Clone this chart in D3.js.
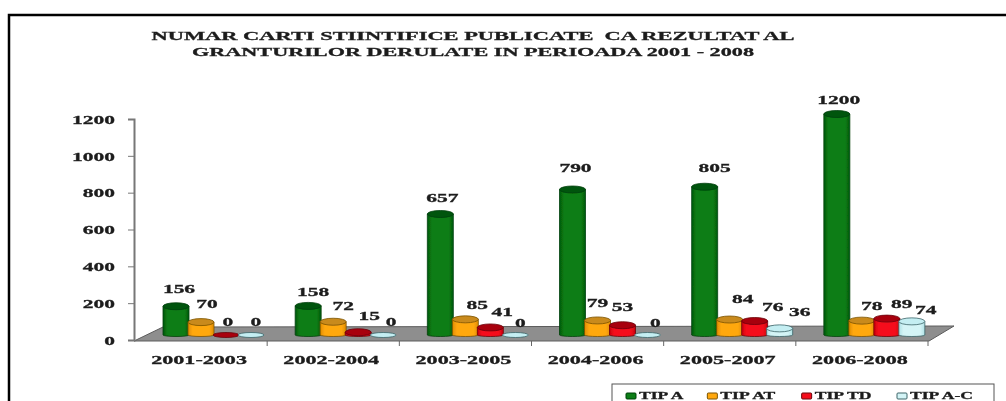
<!DOCTYPE html>
<html>
<head>
<meta charset="utf-8">
<script src="https://cdn.jsdelivr.net/npm/d3@7"></script>
<style>
  html, body { margin: 0; padding: 0; background: #fff; overflow: hidden; }
  svg { display: block; }
  text { font-family: "Liberation Serif", serif; font-weight: bold; fill: #1c1c1c; stroke: #1c1c1c; stroke-width: 0.3; }
</style>
</head>
<body>
<div id="chart"></div>
<script>
var titleLines = ["NUMAR CARTI STIINTIFICE PUBLICATE  CA REZULTAT AL", "GRANTURILOR DERULATE IN PERIOADA 2001 - 2008"];
var periods = ["2001-2003", "2002-2004", "2003-2005", "2004-2006", "2005-2007", "2006-2008"];
var seriesNames = ["TIP A", "TIP AT", "TIP TD", "TIP A-C"];
var tipA = [156, 158, 657, 790, 805, 1200];
var tipAT = [70, 72, 85, 79, 84, 78];
var tipTD = [0, 15, 41, 53, 76, 89];
var tipAC = [0, 0, 0, 0, 36, 74];
var yTicks = [0, 200, 400, 600, 800, 1000, 1200];

var svgWidth = 1006;
var svgHeight = 401;

var svg = d3.select("#chart")
  .append("svg")
  .attr("width", svgWidth)
  .attr("height", svgHeight);

// the reference is a soft, scaled up scan
var defs = svg.append("defs");
defs.append("filter")
  .attr("id", "soft")
  .append("feGaussianBlur")
  .attr("stdDeviation", 0.45);

var colors = [
  { dark: "#045a0c", mid: "#0a7d14", cap: "#05540e", line: "#03400a" },
  { dark: "#e08c00", mid: "#ffa810", cap: "#c98a1c", line: "#7a5200" },
  { dark: "#c8000c", mid: "#f5101c", cap: "#a8000e", line: "#6a0008" },
  { dark: "#b0e2e6", mid: "#d4f4f6", cap: "#c4eef2", line: "#3c6468" }
];

colors.forEach(function(c, i) {
  var grad = defs.append("linearGradient").attr("id", "bar" + i);
  grad.append("stop").attr("offset", "0%").attr("stop-color", c.dark);
  grad.append("stop").attr("offset", "18%").attr("stop-color", c.mid);
  grad.append("stop").attr("offset", "82%").attr("stop-color", c.mid);
  grad.append("stop").attr("offset", "100%").attr("stop-color", c.dark);
});

var chartGroup = svg.append("g").attr("filter", "url(#soft)");

// stretch text sideways, the source picture was pulled wider than tall
function stretch(selection, k) {
  selection.each(function() {
    d3.select(this)
      .attr("textLength", this.getComputedTextLength() * k)
      .attr("lengthAdjust", "spacingAndGlyphs");
  });
}

// page frame, only top and left show
chartGroup.append("path")
  .attr("d", "M9,401V15H1006")
  .attr("fill", "none")
  .attr("stroke", "#000")
  .attr("stroke-width", 2.5);

// title
var titleWidths = [643, 562];
chartGroup.selectAll(".title")
  .data(titleLines)
  .enter()
  .append("text")
  .attr("class", "title")
  .attr("x", 473)
  .attr("y", (d, i) => 40 + i * 16)
  .attr("text-anchor", "middle")
  .attr("font-size", 13)
  .attr("xml:space", "preserve")
  .attr("textLength", (d, i) => titleWidths[i])
  .attr("lengthAdjust", "spacingAndGlyphs")
  .text(d => d);

// scales
var yScale = d3.scaleLinear().domain([0, 1200]).range([340, 119]);
var xScale = d3.scaleBand().domain(periods).range([135, 928]);
var seriesScale = d3.scaleBand().domain(seriesNames).range([28, 128]);

var barWidth = seriesScale.bandwidth() + 1;
var floorLift = 5;
var capHeight = 3.5;

// floor
chartGroup.append("polygon")
  .attr("points", "134,341 163,327 954,326 929,341")
  .attr("fill", "#8e8e8e")
  .attr("stroke", "#5c5c5c");

// y axis
var leftAxis = d3.axisLeft(yScale)
  .tickValues(yTicks)
  .tickFormat(d3.format("d"))
  .tickSize(6)
  .tickPadding(13);

var yAxis = chartGroup.append("g")
  .attr("transform", "translate(134, 0)")
  .call(leftAxis);
yAxis.select(".domain").attr("stroke", "#777").attr("stroke-width", 2);
yAxis.selectAll(".tick line").attr("stroke", "#777");
yAxis.selectAll("text")
  .attr("font-size", 13)
  .attr("font-family", null)
  .call(stretch, 1.65);

// x axis, labels from the band scale and ticks on the band edges
var bottomAxis = d3.axisBottom(xScale).tickSize(0).tickPadding(13);
var xAxis = chartGroup.append("g")
  .attr("transform", "translate(-2, 351)")
  .call(bottomAxis);
xAxis.select(".domain").remove();
xAxis.selectAll("text")
  .attr("font-size", 13)
  .attr("font-family", null)
  .attr("dy", "0")
  .attr("y", 13)
  .call(stretch, 1.7);

chartGroup.selectAll(".xtick")
  .data(periods)
  .enter()
  .append("line")
  .attr("class", "xtick")
  .attr("x1", d => xScale(d) + xScale.bandwidth())
  .attr("x2", d => xScale(d) + xScale.bandwidth())
  .attr("y1", 341)
  .attr("y2", 346)
  .attr("stroke", "#666");

// cylinders
var seriesValues = [tipA, tipAT, tipTD, tipAC];

seriesNames.forEach(function(name, s) {
  var c = colors[s];
  var values = seriesValues[s];
  var group = chartGroup.append("g");

  periods.forEach(function(period, i) {
    var left = xScale(period) + seriesScale(name);
    var cx = left + barWidth / 2;
    var yTop = yScale(values[i]) - floorLift;
    var yBase = yScale(0) - floorLift;
    var rx = barWidth / 2;

    // a zero value is only the flat disc
    if (values[i] > 0) {
      group.append("path")
        .attr("d", `M${left},${yTop}V${yBase}A${rx},1.5 0 0 0 ${left + barWidth},${yBase}V${yTop}Z`)
        .attr("fill", `url(#bar${s})`)
        .attr("stroke", c.line)
        .attr("stroke-width", 0.8);
    }

    group.append("ellipse")
      .attr("cx", cx)
      .attr("cy", yTop)
      .attr("rx", rx)
      .attr("ry", values[i] === 0 ? 2.5 : capHeight)
      .attr("fill", c.cap)
      .attr("stroke", c.line)
      .attr("stroke-width", 0.8);
  });
});

// value labels, hand placed in the original so nudged per label
var labelNudgeX = [
  [3, 5, 2, 3, 10, 2],
  [6, 10, 12, 0, 13, 10],
  [2, 11, 12, 0, 18, 15],
  [5, 8, 5, 8, 20, 14]
];
var labelNudgeY = [
  [-17, -14, -16, -22, -19, -14],
  [-18, -16, -14, -17, -21, -15],
  [-13, -16, -15, -18, -14, -15],
  [-13, -13, -12, -12, -16, -11]
];

seriesNames.forEach(function(name, s) {
  chartGroup.selectAll(".label" + s)
    .data(seriesValues[s])
    .enter()
    .append("text")
    .attr("class", "label" + s)
    .attr("x", (d, i) => xScale(periods[i]) + seriesScale(name) + barWidth / 2 + labelNudgeX[s][i])
    .attr("y", (d, i) => yScale(d) - floorLift + labelNudgeY[s][i] + 4)
    .attr("text-anchor", "middle")
    .attr("font-size", 13)
    .text(d => d)
    .call(stretch, 1.65);
});

// legend, runs off the bottom of the picture
chartGroup.append("rect")
  .attr("x", 612)
  .attr("y", 384)
  .attr("width", 382)
  .attr("height", 30)
  .attr("fill", "#fff")
  .attr("stroke", "#555");

var legendX = d3.scalePoint().domain(seriesNames).range([626, 897]);
var legendOffset = [0, -9, -5, 0];

var legendItems = chartGroup.selectAll(".legend")
  .data(seriesNames)
  .enter()
  .append("g")
  .attr("class", "legend")
  .attr("transform", (d, i) => `translate(${legendX(d) + legendOffset[i]}, 395)`);

legendItems.append("rect")
  .attr("y", -2)
  .attr("width", 10)
  .attr("height", 6)
  .attr("rx", 1)
  .attr("fill", (d, i) => colors[i].mid)
  .attr("stroke", (d, i) => colors[i].line);

legendItems.append("text")
  .attr("x", 13)
  .attr("y", 3.5)
  .attr("font-size", 11)
  .text(d => d)
  .call(stretch, 1.6);
</script>
</body>
</html>
